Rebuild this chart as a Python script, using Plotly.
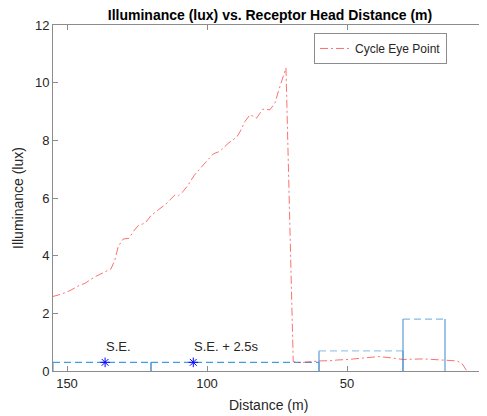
import plotly.graph_objects as go

# Red "Cycle Eye Point" curve: distance (m) and illuminance (lux)
dist = [155.2, 151.9, 148.9, 146.0, 143.6, 140.0, 137.0, 134.3, 132.9, 131.7, 129.9, 127.9,
        126.3, 124.5, 122.1, 120.0, 117.4, 115.0, 113.2, 111.4, 110.2, 108.5, 106.7, 104.6,
        101.3, 97.75, 95.4, 92.4, 89.4, 88.2, 86.4, 84.6, 82.3, 80.1, 77.5, 75.7, 74.5,
        73.3, 71.8, 69.2, 66.8, 63.2, 59.6, 55.0, 53.7, 49.6, 44.2, 38.8, 34.6, 29.9,
        22.75, 15.6, 14.4, 10.8, 9.6, 9.0, 7.25]
illum = [2.58, 2.67, 2.79, 2.95, 3.04, 3.27, 3.41, 3.54, 3.85, 4.32, 4.58, 4.60,
         4.84, 5.05, 5.13, 5.39, 5.59, 5.76, 5.94, 6.11, 6.08, 6.23, 6.46, 6.78,
         7.15, 7.53, 7.62, 7.90, 8.11, 8.30, 8.66, 8.89, 8.77, 9.08, 9.06, 9.30, 9.70,
         10.05, 10.51, 0.32, 0.29, 0.32, 0.35, 0.36, 0.38, 0.40, 0.46, 0.50, 0.46, 0.40,
         0.42, 0.38, 0.38, 0.35, 0.30, 0.27, 0.01]

# Zone boxes (boundaries in m, heights in lux)
zone_edges = [155, 120, 60, 30, 15]
zone_heights = [0.3, 0.3, 0.7, 1.8]

# Event markers
event_labels = ["S.E.", "S.E. + 2.5s"]
event_dist = [136.4, 104.9]
event_val = [0.3, 0.3]

x_ticks = [150, 100, 50, 0]
y_ticks = [0, 2, 4, 6, 8, 10, 12]

FONT = "Liberation Sans, Arial"
OFF = 8  # page body margin

fig = go.Figure()

vert_color = "#5b9bd5"
top_colors = ["#3f9fe6", "#3f9fe6", "#9ccaee", "#86b9e4"]

for i, h in enumerate(zone_heights):
    x0, x1 = zone_edges[i], zone_edges[i + 1]
    fig.add_trace(go.Scatter(x=[x0, x0], y=[0, h], mode="lines",
                             line=dict(color=vert_color, width=1.2), showlegend=False,
                             hoverinfo="skip"))
    fig.add_trace(go.Scatter(x=[x1, x1], y=[0, h], mode="lines",
                             line=dict(color=vert_color, width=1.2), showlegend=False,
                             hoverinfo="skip"))
    fig.add_trace(go.Scatter(x=[x0, x1], y=[h, h], mode="lines",
                             line=dict(color=top_colors[i], width=1.3, dash="7px,4px"),
                             showlegend=False, hoverinfo="skip"))

fig.add_trace(go.Scatter(x=dist, y=illum, mode="lines", name="Cycle Eye Point",
                         line=dict(color="rgba(255,50,50,0.7)", width=1,
                                   dash="8px,3px,2px,3px")))

fig.add_trace(go.Scatter(x=event_dist, y=event_val, mode="markers",
                         marker=dict(symbol="asterisk-open", size=8, color="#0000ff",
                                     line=dict(color="#0000ff", width=1)),
                         showlegend=False, hoverinfo="skip", cliponaxis=False))

for lab, xd, yv in zip(event_labels, event_dist, event_val):
    fig.add_annotation(x=xd, y=yv, xref="x", yref="y", text=lab, showarrow=False,
                       xanchor="left", yanchor="bottom", xshift=-1, yshift=6,
                       font=dict(family=FONT, size=13, color="#262626"))

axis_common = dict(showline=True, linecolor="#8c8c8c", linewidth=1, mirror="ticks",
                   ticks="inside", ticklen=5, tickcolor="#8c8c8c", showgrid=False,
                   zeroline=False, automargin=False,
                   tickfont=dict(family=FONT, size=13, color="#262626"))

PL, PT, PW, PH = 53 - OFF, 25 - OFF, 434, 346
FW, FH = PL + PW, 416 - OFF

fig.update_layout(
    width=FW, height=FH,
    margin=dict(l=PL, r=0, t=PT, b=FH - PT - PH, autoexpand=False),
    plot_bgcolor="white", paper_bgcolor="white",
    title=dict(text="<b>Illuminance (lux) vs. Receptor Head Distance (m)</b>",
               x=(270 - OFF) / FW, xref="container", xanchor="center",
               y=1 - (15 - OFF) / FH, yref="container", yanchor="middle",
               font=dict(family=FONT, size=14, color="#000000")),
    xaxis=dict(range=[155, 0], tickvals=x_ticks, ticktext=[str(v) for v in x_ticks],
               **axis_common),
    yaxis=dict(range=[0, 12], tickvals=y_ticks, ticktext=[str(v) for v in y_ticks],
               **axis_common),
    legend=dict(x=(447 - 53) / 434, xanchor="right", y=0.977, yanchor="top",
                bgcolor="white", bordercolor="#8c8c8c", borderwidth=1,
                font=dict(family=FONT, size=12, color="#262626"),
                itemwidth=30, tracegroupgap=0),
    showlegend=True,
)

# right-most tick label "0" placed at the figure edge
fig.add_annotation(text=str(x_ticks[-1]), x=x_ticks[-1], xref="x", y=0, yref="paper",
                   showarrow=False, xanchor="right", yanchor="top", yshift=-3, xshift=1,
                   font=dict(family=FONT, size=13, color="#262626"))

fig.add_annotation(text="Distance (m)", x=(268 - 53) / 434, y=(371 - 405) / 346,
                   xref="paper", yref="paper", showarrow=False, xanchor="center",
                   yanchor="middle", font=dict(family=FONT, size=14, color="#262626"))
fig.add_annotation(text="Illuminance (lux)", x=(18 - 53) / 434, y=(371 - 198) / 346,
                   xref="paper", yref="paper", showarrow=False, textangle=-90,
                   xanchor="center", yanchor="middle",
                   font=dict(family=FONT, size=14, color="#262626"))

fig.write_html("out.html")
